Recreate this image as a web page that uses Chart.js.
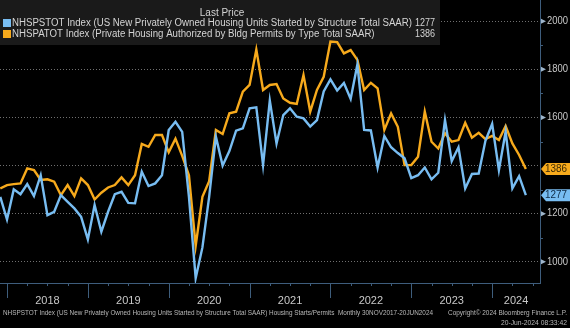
<!DOCTYPE html>
<html>
<head>
<meta charset="utf-8">
<script src="https://cdn.jsdelivr.net/npm/chart.js"></script>
<style>
  html, body { margin: 0; padding: 0; background: #000; }
  canvas { display: block; }
</style>
</head>
<body>
<canvas id="myChart" width="570" height="328"></canvas>
<script>
    // monthly values, Nov 2017 .. May 2024 (thousands, SAAR)
    let months = [];
    for (let y = 2017, m = 11; y < 2024 || m <= 5; ) {
        months.push(y + '-' + String(m).padStart(2, '0'));
        m++; if (m > 12) { m = 1; y++; }
    }

    // housing starts
    let starts = [
        1270, 1176,
        1301, 1281, 1323, 1273, 1360, 1194, 1208, 1277, 1249, 1222, 1187, 1093,
        1236, 1125, 1208, 1281, 1291, 1245, 1243, 1374, 1315, 1326, 1360, 1548,
        1582, 1540, 1270, 932, 1060, 1270, 1520, 1400, 1460, 1545, 1555, 1638,
        1642, 1402, 1670, 1492, 1610, 1638, 1603, 1596, 1562, 1589, 1708, 1758,
        1712, 1743, 1677, 1820, 1548, 1546, 1392, 1523, 1476, 1452, 1430, 1348,
        1360, 1392, 1343, 1370, 1589, 1419, 1476, 1305, 1365, 1367, 1503, 1573,
        1381, 1541, 1305, 1356, 1277
    ];

    // building permits
    let permits = [
        1305, 1319,
        1323, 1326, 1388, 1381, 1340, 1343, 1333, 1277, 1319, 1273, 1347, 1319,
        1259, 1287, 1309, 1319, 1351, 1319, 1360, 1490, 1478, 1527, 1527, 1455,
        1512, 1440, 1360, 1066, 1270, 1335, 1548, 1531, 1617, 1624, 1707, 1735,
        1882, 1714, 1735, 1739, 1679, 1661, 1656, 1776, 1624, 1714, 1769, 1915,
        1913, 1866, 1880, 1839, 1714, 1744, 1721, 1548, 1617, 1561, 1402, 1402,
        1437, 1624, 1499, 1471, 1534, 1499, 1506, 1578, 1516, 1536, 1510, 1523,
        1506, 1564, 1492, 1444, 1386
    ];

    let years = ['2018', '2019', '2020', '2021', '2022', '2023', '2024'];
    let yTicks = [1000, 1200, 1400, 1600, 1800, 2000];
    let yMinor = [1100, 1300, 1500, 1700, 1900];
    let names = [
        'NHSPSTOT Index (US New Privately Owned Housing Units Started by Structure Total SAAR)',
        'NHSPATOT Index (Private Housing Authorized by Bldg Permits by Type Total SAAR)'
    ];
    let lastValues = ['1277', '1386'];

    const BLUE = '#78bdf2';
    const ORANGE = '#f7aa1c';
    const AXIS = '#3e5d7c';
    const FONT = '"Liberation Sans", Arial, sans-serif';

    // x = months after end of Dec 2017 (year starts fall on multiples of 12)
    const toXY = arr => arr.map((v, i) => ({ x: i - 1, y: v }));

    // draw text squeezed to a given width
    function fitText(c, text, x, y, width, align) {
        const w = c.measureText(text).width;
        const k = width ? Math.min(1, width / w) : 1;
        c.save();
        c.translate(x, y);
        c.scale(k, 1);
        c.textAlign = align || 'left';
        c.fillText(text, 0, 0);
        c.restore();
    }

    const deco = {
        id: 'deco',
        beforeDatasetsDraw(chart) {
            const c = chart.ctx;
            c.save();
            c.fillStyle = '#1a1a1a';
            c.fillRect(0, 0, 440, 45);
            c.restore();
        },
        afterDraw(chart) {
            const c = chart.ctx, xs = chart.scales.x, ys = chart.scales.y, a = chart.chartArea;
            c.save();

            // x axis ticks: quarters short, years long
            c.strokeStyle = AXIS;
            c.lineWidth = 1;
            for (let m = 0; m <= 78; m += 3) {
                const px = Math.round(xs.getPixelForValue(m)) + 0.5;
                if (px > a.right) break;
                c.beginPath();
                c.moveTo(px, a.bottom);
                c.lineTo(px, a.bottom + (m % 12 === 0 ? 15 : 3));
                c.stroke();
            }

            // year labels centred on the visible part of each year
            c.fillStyle = '#c8c8c8';
            c.font = '11px ' + FONT;
            c.textBaseline = 'middle';
            years.forEach((yr, i) => {
                const x0 = xs.getPixelForValue(i * 12);
                const x1 = Math.min(xs.getPixelForValue(i * 12 + 12), a.right);
                fitText(c, yr, (x0 + x1) / 2, a.bottom + 18, 0, 'center');
            });

            // y axis: minor ticks, markers and labels (hidden under the value tags)
            const tagY = [starts, permits].map(s => ys.getPixelForValue(s[s.length - 1]));
            yMinor.forEach(v => {
                const py = Math.round(ys.getPixelForValue(v)) + 0.5;
                c.beginPath();
                c.moveTo(a.right, py);
                c.lineTo(a.right + 3, py);
                c.stroke();
            });
            c.font = '10px ' + FONT;
            yTicks.forEach(v => {
                const py = ys.getPixelForValue(v);
                if (tagY.some(t => Math.abs(t - py) < 12)) return;
                c.fillStyle = '#9fb6cc';
                c.beginPath();
                c.moveTo(a.right + 1, py - 2.5);
                c.lineTo(a.right + 6, py);
                c.lineTo(a.right + 1, py + 2.5);
                c.fill();
                c.fillStyle = '#c8c8c8';
                fitText(c, String(v), a.right + 7, py, 21, 'left');
            });

            // last value tags
            [[permits, ORANGE, '#3b2a05', lastValues[1]], [starts, BLUE, '#0d2a45', lastValues[0]]].forEach(t => {
                const py = ys.getPixelForValue(t[0][t[0].length - 1]);
                c.fillStyle = t[1];
                c.beginPath();
                c.moveTo(a.right + 1, py);
                c.lineTo(a.right + 6, py - 6);
                c.lineTo(570, py - 6);
                c.lineTo(570, py + 6);
                c.lineTo(a.right + 6, py + 6);
                c.closePath();
                c.fill();
                c.fillStyle = t[2];
                fitText(c, t[3], 556, py + 0.5, 22, 'center');
            });

            // legend
            c.fillStyle = '#d4d4d4';
            c.font = '10px ' + FONT;
            fitText(c, 'Last Price', 222, 13, 0, 'center');
            const k = 400 / c.measureText(names[0]).width;
            [[BLUE, 23], [ORANGE, 34]].forEach((r, i) => {
                c.fillStyle = r[0];
                c.fillRect(3, r[1] - 4, 8, 8);
                c.fillStyle = '#d4d4d4';
                fitText(c, names[i], 12, r[1], c.measureText(names[i]).width * k, 'left');
                fitText(c, lastValues[i], 435, r[1], 20, 'right');
            });

            // footer
            c.fillStyle = '#b8b8b8';
            c.font = '7px ' + FONT;
            fitText(c, 'NHSPSTOT Index (US New Privately Owned Housing Units Started by Structure Total SAAR) Housing Starts/Permits  Monthly 30NOV2017-20JUN2024', 3, 313, 430, 'left');
            fitText(c, 'Copyright\u00a9 2024 Bloomberg Finance L.P.', 567, 313, 119, 'right');
            fitText(c, '20-Jun-2024 08:33:42', 567, 323, 66, 'right');

            c.restore();
        }
    };

    var ctx = document.getElementById('myChart').getContext('2d');

    var myChart = new Chart(ctx, {
        type: 'line',
        data: {
            labels: months,
            datasets: [{
                label: names[0],
                data: toXY(starts),
                borderColor: BLUE,
                borderWidth: 2.4,
                pointRadius: 0,
                tension: 0
            }, {
                label: names[1],
                data: toXY(permits),
                borderColor: ORANGE,
                borderWidth: 2.4,
                pointRadius: 0,
                tension: 0
            }]
        },
        options: {
            responsive: false,
            animation: false,
            layout: { padding: 0, autoPadding: false },
            plugins: {
                legend: { display: false },
                tooltip: { enabled: false }
            },
            scales: {
                x: {
                    type: 'linear',
                    min: -1.04,
                    max: 79.1,
                    ticks: { display: false },
                    grid: { display: false },
                    border: { display: true, color: AXIS, width: 1 },
                    afterFit(s) { s.height = 45; }
                },
                y: {
                    position: 'right',
                    min: 912,
                    max: 2088,
                    afterBuildTicks(s) { s.ticks = yTicks.map(v => ({ value: v })); },
                    ticks: { display: false },
                    grid: { color: '#707070', lineWidth: 1, drawTicks: false },
                    border: { display: true, color: AXIS, width: 1, dash: [1, 2] },
                    afterFit(s) { s.width = 30; }
                }
            }
        },
        plugins: [deco]
    });
</script>
</body>
</html>
